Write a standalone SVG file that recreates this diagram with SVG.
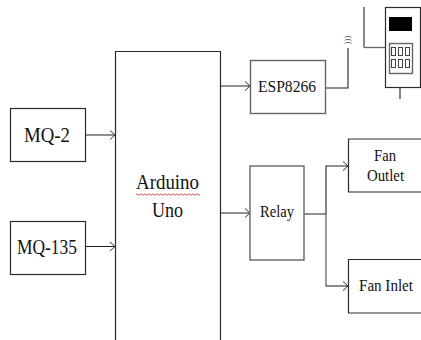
<svg xmlns="http://www.w3.org/2000/svg" width="421" height="340" viewBox="0 0 421 340">
<style>
.b{fill:#fff;stroke:#2a2a2a;stroke-width:1.2}
.g{fill:#fff;stroke:#666;stroke-width:1.4}
.l{fill:none;stroke:#222;stroke-width:1.1}
.lg{fill:none;stroke:#666;stroke-width:1.3}
.a{fill:none;stroke:#333;stroke-width:1}
text{font-family:"Liberation Serif",serif;fill:#111;text-anchor:middle}
</style>
<rect width="421" height="340" fill="#fff"/>
<g id="connectors">
<path class="l" d="M85 135H115M85 246.500H115M220 86H250M220 213H250M304 214H326M326 214V166H348"/>
<path class="lg" d="M326 214V286H348"/>
<path class="l" d="M326 88H348V48"/>
<path class="a" d="M110 130.500L115 135L110 139.500M110 242L115 246.500L110 251M245 81.500L250 86L245 90.500M245 208.500L250 213L245 217.500M343 161.500L348 166L343 170.500M343 281.500L348 286L343 290.500"/>
</g>
<g id="mq2"><rect class="b" x="10.500" y="108.500" width="75" height="53"/><text x="47" y="142" font-size="21" textLength="46" lengthAdjust="spacingAndGlyphs">MQ-2</text></g>
<g id="mq135"><rect class="b" x="10.500" y="221.500" width="75" height="53"/><text x="47" y="254" font-size="20" textLength="60" lengthAdjust="spacingAndGlyphs">MQ-135</text></g>
<g id="arduino"><path class="b" d="M115.500 340V51.500H220.500V340"/><text x="167.500" y="189" font-size="21" textLength="63" lengthAdjust="spacingAndGlyphs">Arduino</text><text x="167.500" y="217" font-size="21" textLength="31" lengthAdjust="spacingAndGlyphs">Uno</text><path d="M136 194.500q1-1.500 2 0t2 0t2 0t2 0t2 0t2 0t2 0t2 0t2 0t2 0t2 0t2 0t2 0t2 0t2 0t2 0t2 0t2 0t2 0t2 0t2 0t2 0t2 0t2 0t2 0t2 0t2 0t2 0t2 0t2 0t2 0t2 0" fill="none" stroke="#e05050" stroke-width="1"/></g>
<g id="esp8266"><rect class="g" x="250.500" y="60.500" width="75" height="53"/><text x="287" y="92" font-size="16" textLength="58" lengthAdjust="spacingAndGlyphs">ESP8266</text></g>
<g id="relay"><rect class="g" x="250" y="166" width="54" height="94"/><text x="277" y="217" font-size="16" textLength="34" lengthAdjust="spacingAndGlyphs">Relay</text></g>
<g id="fan-outlet"><path class="b" d="M421 139H348.500V192H421"/><text x="385" y="161" font-size="16" textLength="22" lengthAdjust="spacingAndGlyphs">Fan</text><text x="385.500" y="181" font-size="16" textLength="37" lengthAdjust="spacingAndGlyphs">Outlet</text></g>
<g id="fan-inlet"><path class="b" d="M421 259.500H348.500V313H421"/><text x="386" y="290.500" font-size="16" textLength="54" lengthAdjust="spacingAndGlyphs">Fan Inlet</text></g>
<g id="wifi"><text transform="translate(350 40) rotate(-90)" font-size="9" fill="#555" style="fill:#555">)))</text></g>
<g id="device">
<path class="l" d="M364 7V47.500"/><path class="lg" d="M364 47.500H385"/><path class="l" d="M400 87V99"/>
<rect class="b" x="385.500" y="7.500" width="35" height="80"/>
<rect x="389" y="17" width="23" height="14" fill="#000"/>
<rect class="g" x="389.500" y="43.500" width="23" height="30"/>
<g fill="#fff" stroke="#444" stroke-width="1"><rect x="391.500" y="47.500" width="4" height="8"/><rect x="398.500" y="47.500" width="4" height="8"/><rect x="405.500" y="47.500" width="4" height="8"/><rect x="391.500" y="59.500" width="4" height="8"/><rect x="398.500" y="59.500" width="4" height="8"/><rect x="405.500" y="59.500" width="4" height="8"/></g>
</g>
</svg>
